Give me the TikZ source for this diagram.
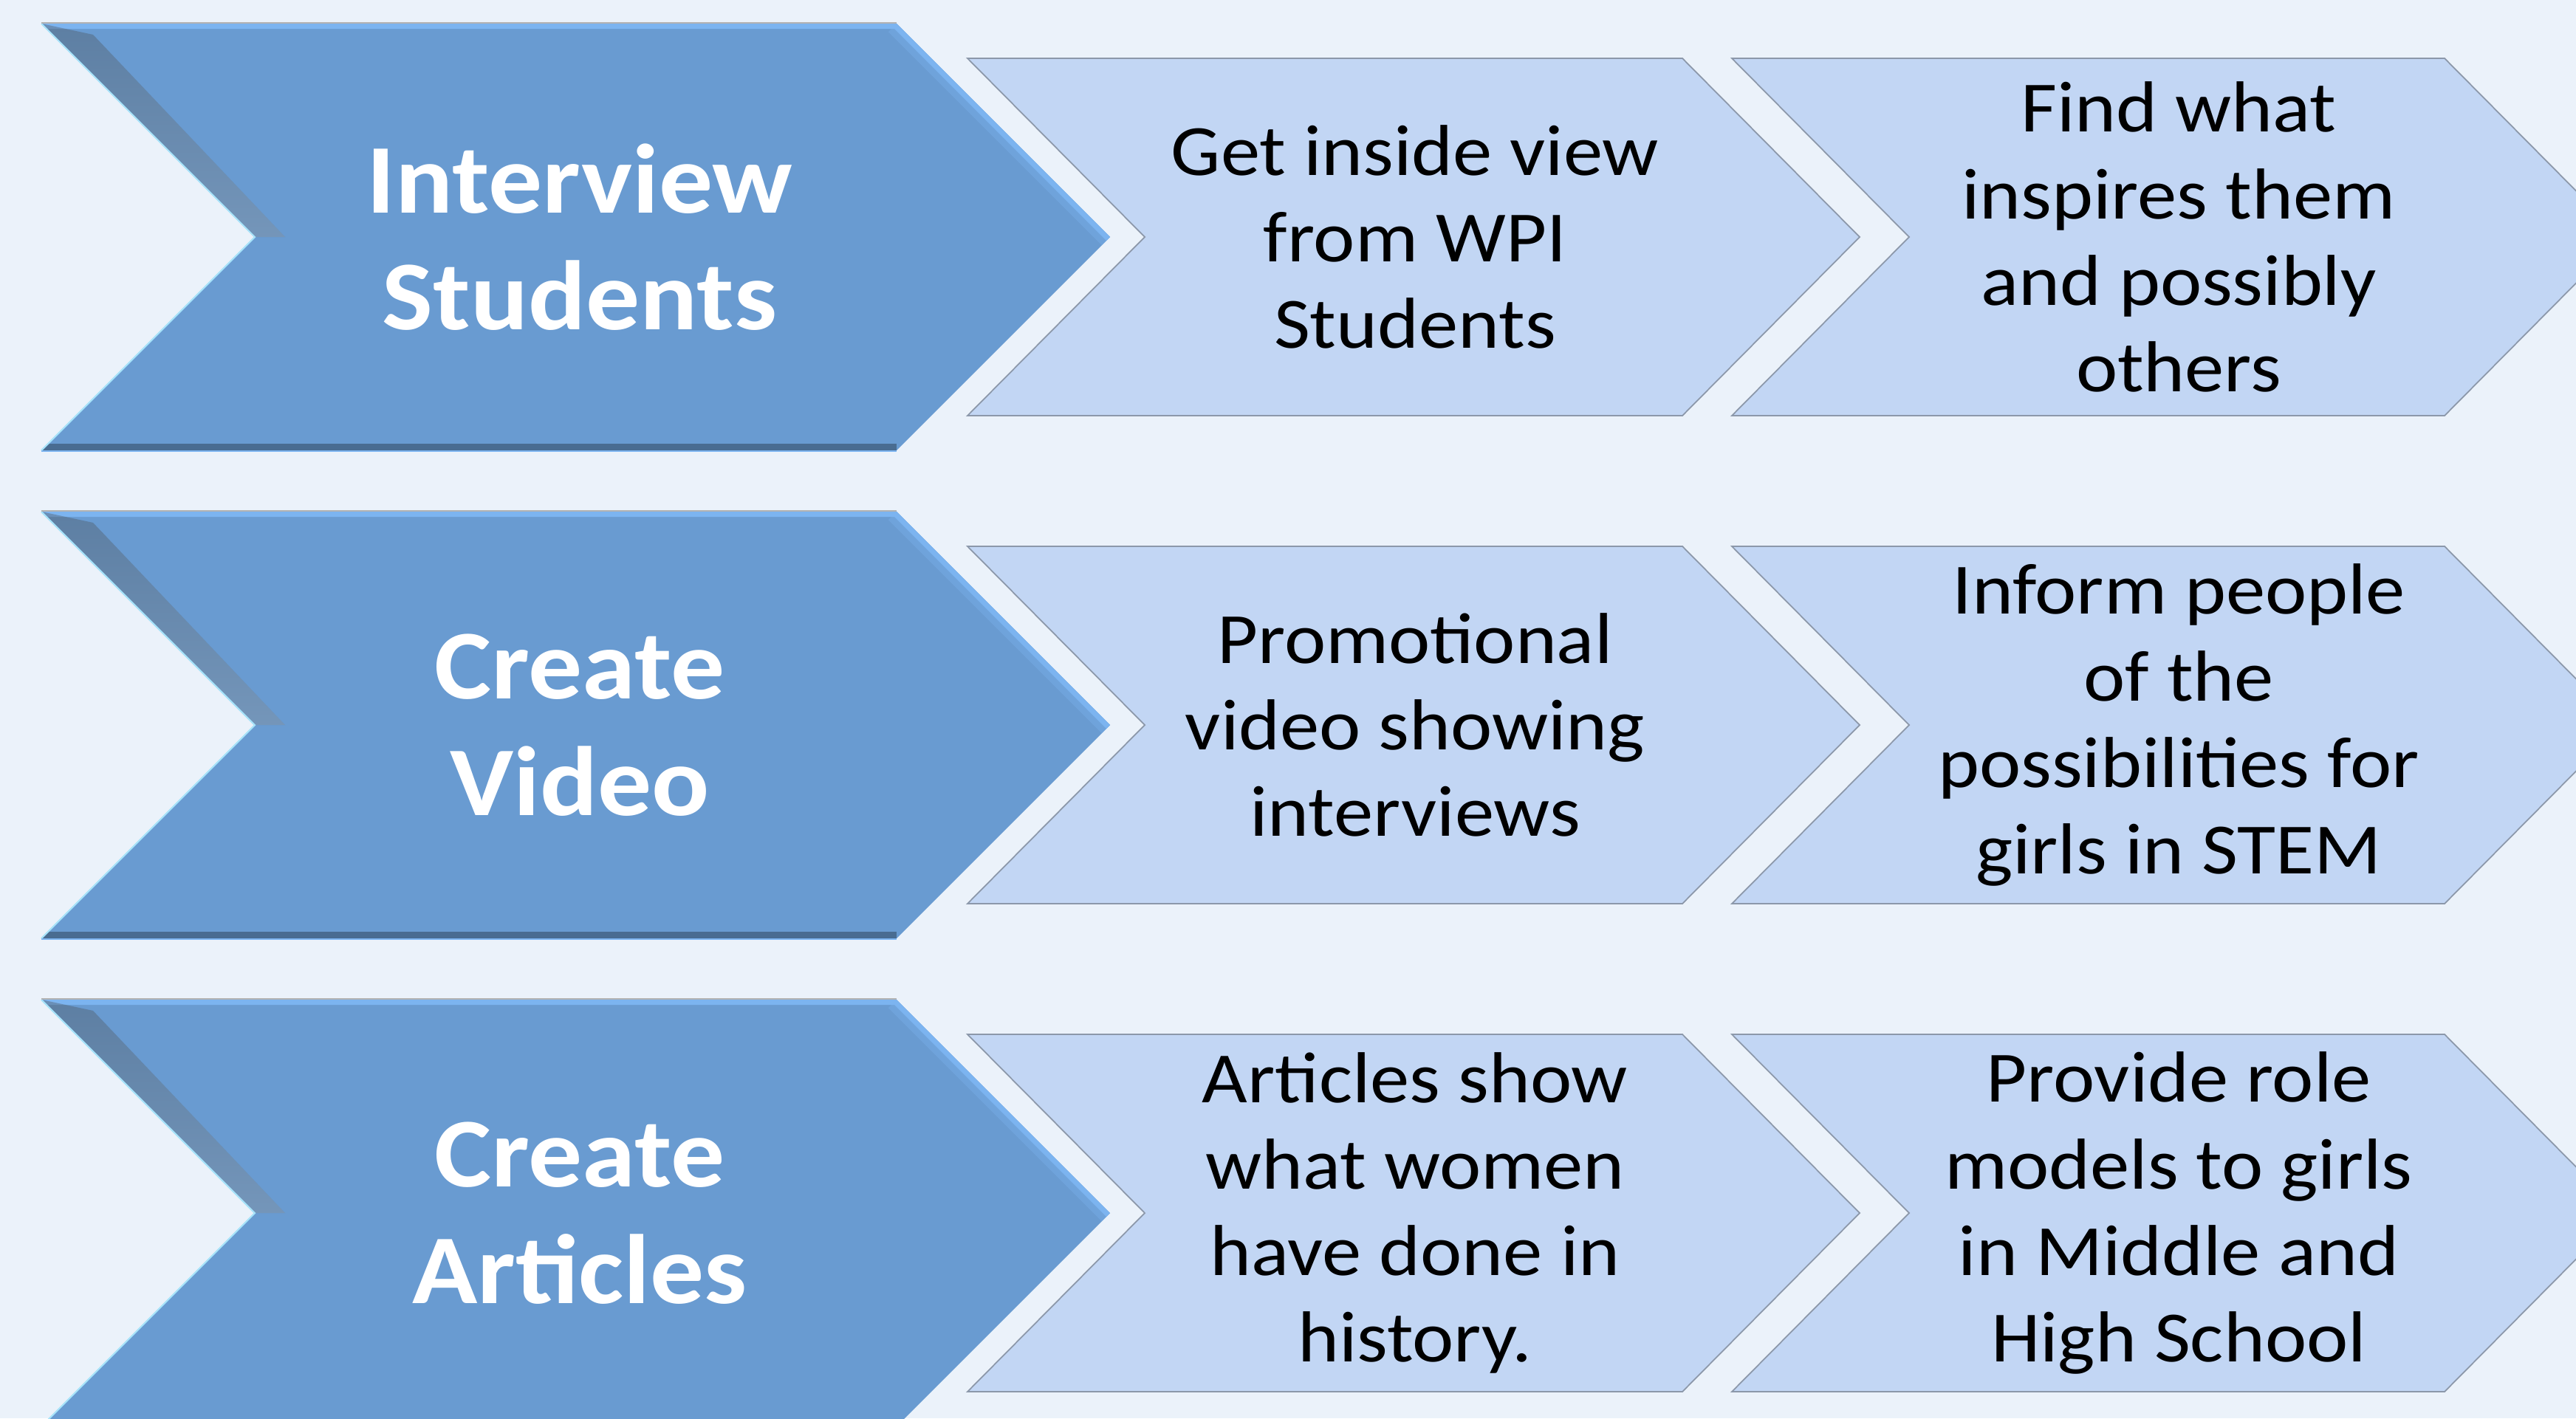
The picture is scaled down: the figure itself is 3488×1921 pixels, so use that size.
\documentclass[tikz,border=0pt]{standalone}
\usepackage{fontspec}
\setmainfont{Carlito}[FakeStretch=1.09]
\begin{document}
\begin{tikzpicture}[x=0.01cm,y=-0.01cm,
  darktext/.style={text=white,align=center,font=\fontsize{38pt}{45pt}\selectfont\bfseries},
  lighttext/.style={text=black,align=center,font=\fontsize{27.8pt}{33.3pt}\selectfont},
  lightfill/.style={fill=paleblue,draw=edgegray,line width=0.5pt,line join=miter}]
\definecolor{bgcol}{RGB}{235,242,250}
\definecolor{darkblue}{RGB}{105,155,209}
\definecolor{paleblue}{RGB}{194,214,244}
\definecolor{edgegray}{RGB}{140,152,170}
\definecolor{hilite}{RGB}{124,180,240}
\definecolor{shade}{RGB}{88,128,175}
% background
\fill[bgcol] (0,0) rectangle (3488,1921);
\useasboundingbox (0,0) rectangle (3488,1921);
% chevron outline: left x, top y, top length, height, point depth
\newcommand{\chevpath}[5]{(#1,#2) -- ({#1+#3},#2) -- ({#1+#3+#5},{#2+#4/2}) -- ({#1+#3},{#2+#4}) -- (#1,{#2+#4}) -- ({#1+#5},{#2+#4/2}) -- cycle}
% bevelled dark chevron
\newcommand{\darkchev}[2]{%
  \fill[darkblue] \chevpath{#1}{#2}{1158}{578}{289};
  \begin{scope}
    \clip \chevpath{#1}{#2}{1158}{578}{289};
    % lit top and upper right edges
    \draw[hilite,line width=4pt] (#1,#2) -- ({#1+1158},#2) -- ({#1+1447},{#2+289});
    \draw[hilite,line width=9pt,opacity=0.35] ({#1+1158},#2) -- ({#1+1447},{#2+289});
    % shaded upper left edge and bottom
    \fill[shade,opacity=0.18] (#1,#2) -- ({#1+289},{#2+289}) -- ({#1+330},{#2+289}) -- ({#1+70},{#2+15}) -- cycle;
    \draw[shade,line width=5pt,opacity=0.3] (#1,{#2+578}) -- ({#1+1158},{#2+578});
  \end{scope}
  \draw[cyan!35!white,line width=0.6pt] (#1,#2) -- ({#1+289},{#2+289}) -- (#1,{#2+578});
  \draw[gray!60!white,line width=0.6pt] (#1,{#2-1}) -- ({#1+1158},{#2-1});
  \draw[hilite,line width=0.8pt] (#1,{#2+579}) -- ({#1+1158},{#2+579});
}
% rows of chevrons
\foreach \ty in {32,693,1354}{
  \darkchev{56}{\ty}
  \pgfmathsetmacro{\ly}{\ty+47}
  \draw[lightfill] \chevpath{1310}{\ly}{968}{484}{240};
  \draw[lightfill] \chevpath{2345}{\ly}{965}{484}{240};
}
% labels
\node[darktext] (d1) at (785,321) {Interview\\Students};
\node[darktext] (d2) at (785,982) {Create\\Video};
\node[darktext] (d3) at (785,1643) {Create\\Articles};
\node[lighttext] (a1) at (1916,321) {Get inside view\\from WPI\\Students};
\node[lighttext] (b1) at (2950,321) {Find what\\inspires them\\and possibly\\others};
\node[lighttext] (a2) at (1916,982) {Promotional\\video showing\\interviews};
\node[lighttext] (b2) at (2950,982) {Inform people\\of the\\possibilities for\\girls in STEM};
\node[lighttext] (a3) at (1916,1643) {Articles show\\what women\\have done in\\history.};
\node[lighttext] (b3) at (2950,1643) {Provide role\\models to girls\\in Middle and\\High School};
\end{tikzpicture}
\end{document}
